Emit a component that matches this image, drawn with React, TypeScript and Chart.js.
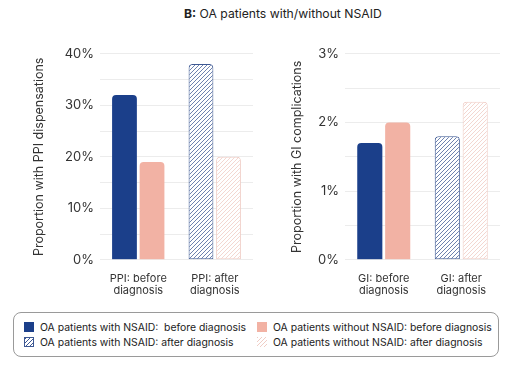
import React, { useEffect, useRef } from "react";
import { Chart, registerables } from "chart.js";

Chart.register(...registerables);

const ppiCategories = [["PPI: before", "diagnosis"], ["PPI: after", "diagnosis"]];
const giCategories = [["GI: before", "diagnosis"], ["GI: after", "diagnosis"]];

const seriesLabels = [
  "OA patients with NSAID:  before diagnosis",
  "OA patients without NSAID: before diagnosis",
  "OA patients with NSAID: after diagnosis",
  "OA patients without NSAID: after diagnosis",
];

// PPI dispensations (%)
const ppiWithBefore = [32, null];
const ppiWithoutBefore = [19, null];
const ppiWithAfter = [null, 38];
const ppiWithoutAfter = [null, 20];

// GI complications (%)
const giWithBefore = [1.7, null];
const giWithoutBefore = [2.0, null];
const giWithAfter = [null, 1.8];
const giWithoutAfter = [null, 2.3];

const ppiTicks = [0, 10, 20, 30, 40];
const giTicks = [0, 1, 2, 3];

const BLUE = "#1b3f8a";
const BLUE_LINE = "#3d5893";
const PINK = "#f2b2a4";
const PINK_LINE = "#f0cdc5";
const FONT = "Inter, 'Open Sans', sans-serif";

function makePattern(line: string, width: number): CanvasPattern | string {
  const s = 4;
  const c = document.createElement("canvas");
  c.width = s;
  c.height = s;
  const ctx = c.getContext("2d");
  if (!ctx) return "#fff";
  ctx.fillStyle = "#ffffff";
  ctx.fillRect(0, 0, s, s);
  ctx.strokeStyle = line;
  ctx.lineWidth = width;
  ctx.beginPath();
  ctx.moveTo(0, s);
  ctx.lineTo(s, 0);
  ctx.moveTo(-1, 1);
  ctx.lineTo(1, -1);
  ctx.moveTo(s - 1, s + 1);
  ctx.lineTo(s + 1, s - 1);
  ctx.stroke();
  const p = ctx.createPattern(c, "repeat");
  return p || "#fff";
}

function buildChart(
  canvas: HTMLCanvasElement,
  cats: string[][],
  data: (number | null)[][],
  ticks: number[],
  max: number,
  step: number,
  title: string,
  axisWidth: number,
  padRight: number
) {
  const blueHatch = makePattern(BLUE_LINE, 0.75);
  const pinkHatch = makePattern(PINK_LINE, 0.8);
  const radius = { topLeft: 4, topRight: 4, bottomLeft: 0, bottomRight: 0 };
  const fills = [BLUE, PINK, blueHatch, pinkHatch];
  const borders = [BLUE, PINK, BLUE_LINE, PINK_LINE];
  const bw = [0, 0, 1, 1];
  return new Chart(canvas, {
    type: "bar",
    data: {
      labels: cats,
      datasets: data.map((d, i) => ({
        label: seriesLabels[i],
        data: d,
        backgroundColor: fills[i],
        borderColor: borders[i],
        borderWidth: bw[i],
        borderRadius: radius,
        borderSkipped: false,
        skipNull: true,
        categoryPercentage: 0.72,
        barPercentage: 0.9,
      })) as any,
    },
    options: {
      animation: false,
      responsive: false,
      maintainAspectRatio: false,
      layout: { padding: { top: 10, right: padRight, left: 0, bottom: 0 } },
      plugins: { legend: { display: false }, tooltip: { enabled: false } },
      scales: {
        x: {
          grid: { display: false },
          border: { display: false },
          ticks: {
            color: "#333",
            font: { family: FONT, size: 11, lineHeight: 1.1 },
            padding: 5,
            maxRotation: 0,
          },
        },
        y: {
          min: 0,
          max: max,
          grid: { color: "#ececec", lineWidth: 1, drawTicks: false },
          border: { display: false },
          afterBuildTicks: (scale: any) => {
            const arr: any[] = [];
            for (let v = 0; v <= max + 1e-9; v += step) arr.push({ value: Math.round(v * 100) / 100 });
            scale.ticks = arr;
          },
          afterFit: (scale: any) => {
            scale.width = axisWidth;
          },
          ticks: {
            color: "#333",
            font: { family: FONT, size: 13 },
            padding: 6,
            callback: (v: any) => (ticks.includes(Number(v)) ? v + "%" : ""),
          },
          title: {
            display: true,
            text: title,
            color: "#333",
            font: { family: FONT, size: 12.5 },
            padding: { top: 0, bottom: 0 },
          },
        },
      },
    },
  });
}

function Swatch({ kind }: { kind: number }) {
  const styles: React.CSSProperties[] = [
    { background: BLUE },
    { background: PINK },
    {
      background: `repeating-linear-gradient(-45deg, #fff 0px, #fff 1.8px, ${BLUE_LINE} 1.8px, ${BLUE_LINE} 2.8px)`,
      border: `1px solid ${BLUE_LINE}`,
      boxSizing: "border-box",
    },
    {
      background: `repeating-linear-gradient(-45deg, #fff 0px, #fff 1.8px, ${PINK_LINE} 1.8px, ${PINK_LINE} 2.8px)`,
    },
  ];
  return (
    <span
      style={{
        display: "inline-block",
        width: 10,
        height: 10,
        marginRight: 6,
        verticalAlign: "-1px",
        ...styles[kind],
      }}
    />
  );
}

export default function App() {
  const leftRef = useRef<HTMLCanvasElement>(null);
  const rightRef = useRef<HTMLCanvasElement>(null);

  useEffect(() => {
    document.body.style.margin = "0";
    const c1 = buildChart(
      leftRef.current!,
      ppiCategories,
      [ppiWithBefore, ppiWithoutBefore, ppiWithAfter, ppiWithoutAfter],
      ppiTicks,
      40,
      5,
      "Proportion with PPI dispensations",
      68,
      7
    );
    const c2 = buildChart(
      rightRef.current!,
      giCategories,
      [giWithBefore, giWithoutBefore, giWithAfter, giWithoutAfter],
      giTicks,
      3,
      0.5,
      "Proportion with GI complications",
      55,
      5
    );
    return () => {
      c1.destroy();
      c2.destroy();
    };
  }, []);

  const itemStyle: React.CSSProperties = {
    position: "absolute",
    whiteSpace: "pre",
    fontSize: 10.4,
    color: "#222",
    lineHeight: "14px",
  };

  return (
    <div style={{ position: "relative", width: 510, height: 367, fontFamily: FONT, background: "#fff" }}>
      <div style={{ position: "absolute", left: 184, top: 6, fontSize: 12.2, color: "#222", whiteSpace: "pre" }}>
        <b>B:</b> OA patients with/without NSAID
      </div>
      <canvas ref={leftRef} width={228} height={262} style={{ position: "absolute", left: 32, top: 40 }} />
      <canvas ref={rightRef} width={215} height={262} style={{ position: "absolute", left: 290, top: 40 }} />
      <div
        style={{
          position: "absolute",
          left: 13,
          top: 312,
          width: 486,
          height: 45,
          border: "1px solid #9a9a9a",
          borderRadius: 8,
          boxSizing: "border-box",
        }}
      />
      <div style={{ ...itemStyle, left: 24, top: 321 }}>
        <Swatch kind={0} />
        {seriesLabels[0]}
      </div>
      <div style={{ ...itemStyle, left: 257, top: 321 }}>
        <Swatch kind={1} />
        {seriesLabels[1]}
      </div>
      <div style={{ ...itemStyle, left: 24, top: 336 }}>
        <Swatch kind={2} />
        {seriesLabels[2]}
      </div>
      <div style={{ ...itemStyle, left: 257, top: 336 }}>
        <Swatch kind={3} />
        {seriesLabels[3]}
      </div>
    </div>
  );
}
